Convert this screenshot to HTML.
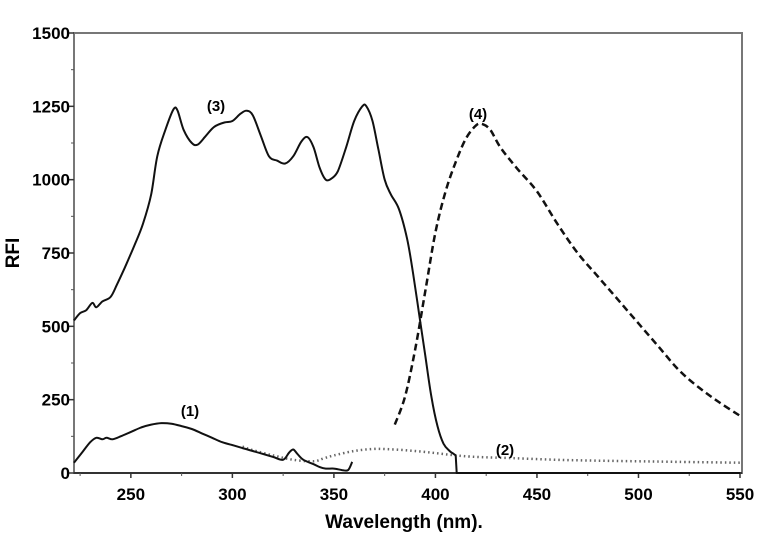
<!DOCTYPE html>
<html><head><meta charset="utf-8"><style>
html,body{margin:0;padding:0;background:#fff;}
svg{display:block;font-family:"Liberation Sans",Arial,sans-serif;}
</style></head><body>
<svg id="chart" width="761" height="542" viewBox="0 0 761 542">
<g id="axes"></g>
<g id="series"></g>
<text transform="translate(19,253) rotate(-90)" text-anchor="middle" font-size="19" font-weight="bold">RFI</text>
<text x="404" y="528" text-anchor="middle" font-size="19" font-weight="bold">Wavelength (nm).</text>
<text x="216" y="111" text-anchor="middle" font-size="15" font-weight="bold">(3)</text>
<text x="478" y="119" text-anchor="middle" font-size="15" font-weight="bold">(4)</text>
<text x="190" y="416" text-anchor="middle" font-size="15" font-weight="bold">(1)</text>
<text x="505" y="455" text-anchor="middle" font-size="15" font-weight="bold">(2)</text>
</svg>
<script>
const xTicks=[250,300,350,400,450,500,550];
const yTicks=[0,250,500,750,1000,1250,1500];
const s3x=[222,225,228,231,233,236,240,243,247,252,256,260,263,267,271,273,276,280,283,287,291,296,300,304,307,310,314,318,322,326,330,334,337,340,343,346,349,352,356,360,364,366,369,372,375,378,382,386,389,392,395,398,401,404,407,409,410,410.5,550];
const s3y=[520,545,555,580,565,585,600,640,700,780,850,950,1080,1170,1240,1235,1170,1125,1120,1150,1180,1195,1200,1225,1235,1220,1150,1080,1065,1055,1080,1130,1145,1110,1040,1000,1005,1030,1110,1200,1250,1250,1200,1100,1000,950,900,800,680,540,400,260,160,100,75,65,60,0,0];
const s4x=[380,385,390,395,400,405,410,415,420,423,427,432,440,450,460,470,480,490,500,510,520,530,540,550];
const s4y=[165,260,420,620,820,960,1060,1140,1185,1190,1170,1110,1040,960,850,750,670,590,510,430,350,290,240,195];
const s1x=[222,226,230,233,236,238,241,245,250,255,260,265,270,275,280,285,290,295,300,305,310,315,320,325,328,330,332,335,340,343,346,350,354,357,359];
const s1y=[35,70,105,120,115,120,115,125,140,155,165,170,168,160,150,135,120,105,95,85,75,65,55,45,70,80,65,45,30,20,15,15,10,10,38];
const s2x=[305,310,320,330,340,345,350,360,370,380,390,400,410,420,440,460,480,500,520,550];
const s2y=[90,78,60,45,40,50,60,75,82,80,75,68,60,55,50,45,42,40,38,35];
const X0=74,X1=740,Y0=473,Y1=33,D0=222,D1=550;
const sx=v=>X0+(v-D0)*(X1-X0)/(D1-D0);
const sy=v=>Y0-v*(Y0-Y1)/1500;
const NS="http://www.w3.org/2000/svg";
const ax=document.getElementById('axes'),se=document.getElementById('series');
function mk(p,tag,at){const e=document.createElementNS(NS,tag);for(const k in at)e.setAttribute(k,at[k]);p.appendChild(e);return e;}
const fr=mk(ax,'rect',{x:X0,y:Y1,width:742-X0,height:Y0-Y1,fill:'none',stroke:'#777','stroke-width':2});


const bl=mk(ax,'line',{x1:X0,y1:Y0,x2:742,y2:Y0,stroke:'#333','stroke-width':2});


xTicks.forEach(t=>{
 const l=mk(ax,'line',{x1:sx(t),y1:Y0,x2:sx(t),y2:Y0+5,stroke:'#333','stroke-width':1.5});
 
 
 const m=mk(ax,'line',{x1:sx(t-25),y1:Y0,x2:sx(t-25),y2:Y0+3,stroke:'#555','stroke-width':1});
 
 
 const tx=mk(ax,'text',{x:sx(t),y:Y0+27,'text-anchor':'middle','font-size':17,'font-weight':'bold'});
 tx.textContent=t;
 
 
});
yTicks.forEach(t=>{
 const l=mk(ax,'line',{x1:X0-5,y1:sy(t),x2:X0,y2:sy(t),stroke:'#333','stroke-width':1.5});
 
 
 if(t<1500){const m=mk(ax,'line',{x1:X0-3,y1:sy(t+125),x2:X0,y2:sy(t+125),stroke:'#555','stroke-width':1});
 
 }
 const tx=mk(ax,'text',{x:X0-4,y:sy(t)+6,'text-anchor':'end','font-size':17,'font-weight':'bold'});
 tx.textContent=t;
 
 
});
function path(xs,ys){
 const P=xs.map((x,i)=>[sx(x),sy(ys[i])]);
 const dx=i=>(i>=0&&i<P.length-1)?P[i+1][0]-P[i][0]:99;
 let d='M'+P[0][0].toFixed(1)+','+P[0][1].toFixed(1);
 for(let i=0;i<P.length-1;i++){
  const p0=P[i-1]||P[i],p1=P[i],p2=P[i+1],p3=P[i+2]||P[i+1];
  if(dx(i)<2||dx(i-1)<2||dx(i+1)<2){d+=' L'+p2.map(v=>v.toFixed(1));continue;}
  const c1=[p1[0]+(p2[0]-p0[0])/6,p1[1]+(p2[1]-p0[1])/6];
  const c2=[p2[0]-(p3[0]-p1[0])/6,p2[1]-(p3[1]-p1[1])/6];
  d+=' C'+c1.map(v=>v.toFixed(1))+' '+c2.map(v=>v.toFixed(1))+' '+p2.map(v=>v.toFixed(1));
 }
 return d;
}
const p2=mk(se,'path',{d:path(s2x,s2y),fill:'none',stroke:'#666','stroke-width':2.5,'stroke-dasharray':'1.5 3'});


const p1=mk(se,'path',{d:path(s1x,s1y),fill:'none',stroke:'#111','stroke-width':2,'stroke-linejoin':'round'});


const p3=mk(se,'path',{d:path(s3x,s3y),fill:'none',stroke:'#111','stroke-width':2,'stroke-linejoin':'round'});


const p4=mk(se,'path',{d:path(s4x,s4y),fill:'none',stroke:'#111','stroke-width':2.5,'stroke-dasharray':'7 4'});


</script>
</body></html>
